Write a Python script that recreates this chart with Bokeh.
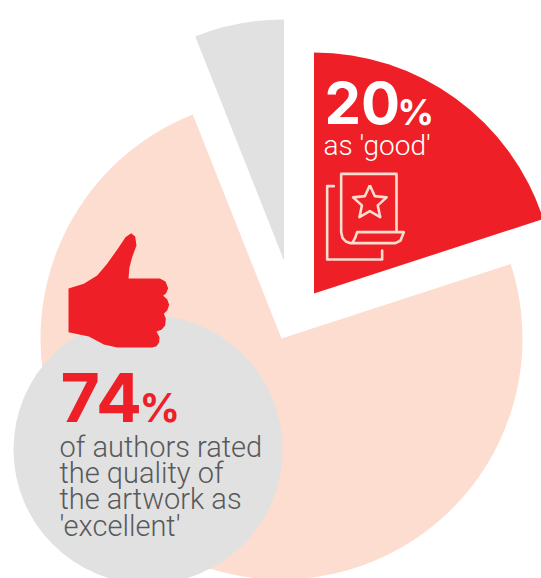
import math
from bokeh.plotting import figure
from bokeh.models import Range1d
from bokeh.core.properties import value
from bokeh.embed import file_html
from bokeh.resources import INLINE

W, H = 541, 578

# data
categories = ["good", "excellent", "other"]
shares = [20, 74, 6]
colors = ["#EE1F26", "#FDDDCF", "#E1E1E1"]
apex_x = [313.5, 281.0, 283.5]
apex_y = [293.0, 338.0, 260.0]
radius = 241

FONT = "Roboto Light"
BOLD_FONT = "Inter"
RED, PEACH, GREY, DARK = "#EE1F26", "#FDDDCF", "#E1E1E1", "#58595B"


def Y(v):
    return H - v


p = figure(width=W, height=H, output_backend="svg", toolbar_location=None,
           x_range=Range1d(0, W), y_range=Range1d(0, H),
           x_axis_location=None, y_axis_location=None, min_border=0)
p.grid.visible = False
p.outline_line_color = None
p.background_fill_color = "white"

# pie: clockwise from 12 o'clock
cum = 0
for s, c, ax, ay in zip(shares, colors, apex_x, apex_y):
    end = math.pi / 2 - 2 * math.pi * cum / 100
    start = math.pi / 2 - 2 * math.pi * (cum + s) / 100
    p.wedge(x=[ax], y=[Y(ay)], radius=radius, start_angle=start, end_angle=end,
            fill_color=c, line_color=None)
    cum += s

# grey callout
p.circle(x=[147.5], y=[Y(449)], radius=134.5, fill_color=GREY, line_color=None)


# thumb icon (traced in zoomed coordinates)
def zx(v):
    return v / 3


def zy(v):
    return Y(220 + v / 3)


thumb = [(204, 204), (250, 190), (290, 165), (320, 130), (355, 80), (375, 50), (392, 38),
         (404, 48), (408, 75), (395, 110), (387, 140), (384, 174), (478, 174), (495, 183),
         (503, 203), (497, 218), (488, 226), (500, 236), (506, 253), (500, 270), (490, 280),
         (496, 295), (494, 315), (483, 328), (468, 333), (477, 350), (476, 365), (468, 377),
         (455, 381), (350, 381), (310, 372), (265, 348), (204, 335)]
p.patch([zx(a) for a, b in thumb], [zy(b) for a, b in thumb], fill_color=RED, line_color=None)


# book icon
def bx(v):
    return 300 + v / 3


def by(v):
    return Y(40 + v / 3)


book_lines = [
    [(100, 437), (80, 437), (80, 657), (245, 657), (245, 630)],
    [(288, 575), (288, 400), (122, 400), (122, 575), (126, 592), (136, 603), (150, 608),
     (285, 608), (300, 600), (310, 575), (170, 575), (164, 592), (155, 608)],
]
for ln in book_lines:
    p.line([bx(a) for a, b in ln], [by(b) for a, b in ln], line_color=PEACH, line_width=2.6,
           line_join="round", line_cap="round")
sx, sy, ro, ri = 208, 487, 53, 25
star = []
for i in range(10):
    r = ro if i % 2 == 0 else ri
    a = math.pi / 2 - i * math.pi / 5
    star.append((sx + r * math.cos(a), sy - r * math.sin(a)))
star.append(star[0])
p.line([bx(a) for a, b in star], [by(b) for a, b in star], line_color=PEACH, line_width=2.6,
       line_join="round")


# texts
def label(x, base, txt, size, color, font=FONT, style="normal"):
    p.text(x=[x], y=[Y(base - 0.37 * size)], text=[txt], text_font=value(font),
           text_font_size=f"{size}px", text_font_style=style, text_color=color,
           text_align="left", text_baseline="alphabetic")


label(324, 124, "20", 58, "white", BOLD_FONT, "bold")
label(397, 125, "%", 36, "white", BOLD_FONT, "bold")
label(323, 155, "as 'good'", 28, "white")
label(60, 422, "74", 68, "#EE1F26", BOLD_FONT, "bold")
label(139, 422, "%", 40, "#EE1F26", BOLD_FONT, "bold")
lines = ["of authors rated", "the quality of", "the artwork as", "'excellent'"]
bases = [457, 483, 509, 536]
for t, b in zip(lines, bases):
    label(59, b, t, 29, DARK)

open("out.html", "w").write(file_html(p, INLINE))
